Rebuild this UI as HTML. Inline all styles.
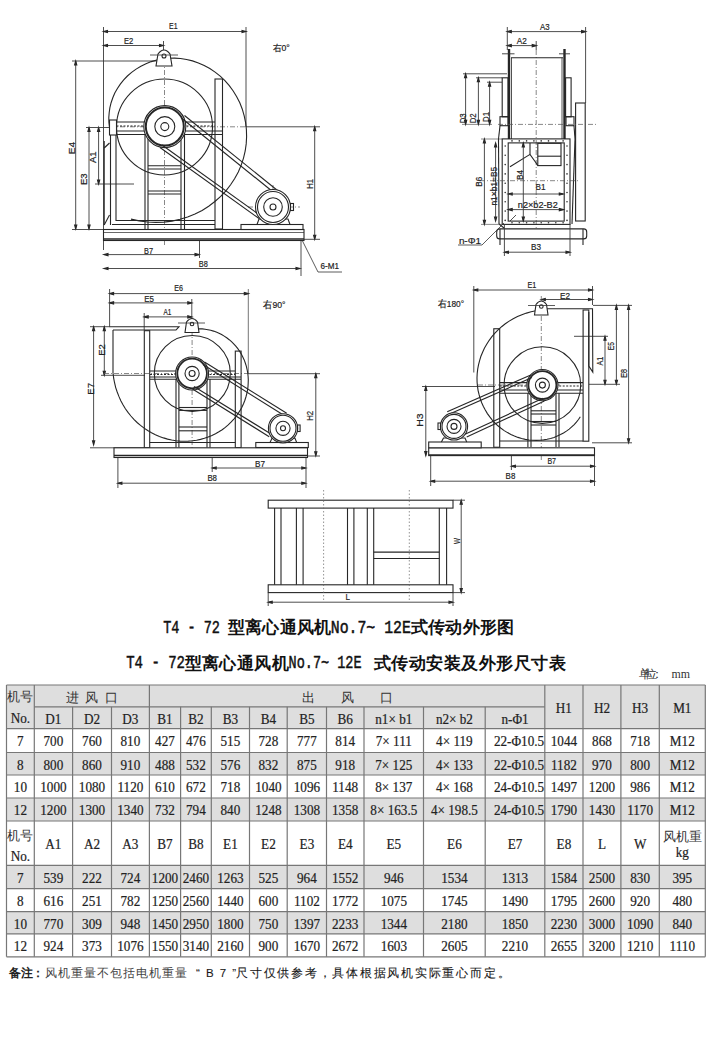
<!DOCTYPE html>
<html><head><meta charset="utf-8">
<style>
html,body{margin:0;padding:0;background:#fff;}
#pg{position:relative;width:720px;height:1045px;overflow:hidden;background:#fff;}
svg{position:absolute;left:0;top:0;}
.t{font-family:"Liberation Serif",serif;fill:#222;stroke:#222;stroke-width:0.2px;text-anchor:middle;}
.c{font-family:"Liberation Serif",serif;fill:#333;text-anchor:middle;}
.d{font-family:"Liberation Sans",sans-serif;fill:#222;stroke:#222;stroke-width:0.2px;}
.lm{font-family:"Liberation Mono",monospace;fill:#111;stroke:#111;stroke-width:0.5px;}
.cj{font-family:"Liberation Serif",serif;font-weight:bold;fill:#111;}
.un{font-family:"Liberation Serif",serif;fill:#333;}
.nb{font-family:"Liberation Sans",sans-serif;font-weight:bold;fill:#222;}
.nm{font-family:"Liberation Sans",sans-serif;fill:#1a1a1a;stroke:#1a1a1a;stroke-width:0.1px;}
.nr{font-family:"Liberation Sans",sans-serif;fill:#444;}
.title{position:absolute;white-space:nowrap;font-family:"Liberation Mono",monospace;color:#111;}
.note{position:absolute;white-space:nowrap;font-family:"Liberation Sans",sans-serif;color:#222;}
</style></head><body><div id="pg">
<svg width="720" height="1045" viewBox="0 0 720 1045">
<g fill="none" stroke="#262626" stroke-width="1.1">
<line x1="103.5" y1="27" x2="103.5" y2="250" stroke="#3a3a3a" stroke-width="0.9"/>
<line x1="246" y1="27" x2="246" y2="127" stroke="#3a3a3a" stroke-width="0.9"/>
<line x1="103.5" y1="31.5" x2="246" y2="31.5" stroke="#3a3a3a" stroke-width="0.9"/>
<path d="M103.5,31.5 L107.50,30.40 L107.50,32.60Z" fill="#333"/>
<path d="M246,31.5 L242.00,32.60 L242.00,30.40Z" fill="#333"/>
<line x1="103.5" y1="45.5" x2="163.5" y2="45.5" stroke="#3a3a3a" stroke-width="0.9"/>
<path d="M103.5,45.5 L107.50,44.40 L107.50,46.60Z" fill="#333"/>
<path d="M163.5,45.5 L159.50,46.60 L159.50,44.40Z" fill="#333"/>
<line x1="163.5" y1="41" x2="163.5" y2="51" stroke="#3a3a3a" stroke-width="0.9"/>
<line x1="72" y1="61" x2="158" y2="61" stroke="#3a3a3a" stroke-width="0.9"/>
<line x1="75.7" y1="61" x2="75.7" y2="229" stroke="#3a3a3a" stroke-width="0.9"/>
<path d="M75.7,61 L76.80,65.00 L74.60,65.00Z" fill="#333"/>
<path d="M75.7,229 L74.60,225.00 L76.80,225.00Z" fill="#333"/>
<line x1="89" y1="127.5" x2="89" y2="229" stroke="#3a3a3a" stroke-width="0.9"/>
<path d="M89,127.5 L90.10,131.50 L87.90,131.50Z" fill="#333"/>
<path d="M89,229 L87.90,225.00 L90.10,225.00Z" fill="#333"/>
<line x1="98.6" y1="127.5" x2="98.6" y2="184" stroke="#3a3a3a" stroke-width="0.9"/>
<path d="M98.6,127.5 L99.70,131.50 L97.50,131.50Z" fill="#333"/>
<path d="M98.6,184 L97.50,180.00 L99.70,180.00Z" fill="#333"/>
<line x1="86" y1="127.5" x2="109" y2="127.5" stroke="#3a3a3a" stroke-width="0.9"/>
<line x1="95" y1="184" x2="134" y2="184" stroke="#3a3a3a" stroke-width="0.9"/>
<line x1="72" y1="229.5" x2="103" y2="229.5" stroke="#3a3a3a" stroke-width="0.9"/>
<line x1="246" y1="126.8" x2="320" y2="126.8" stroke="#3a3a3a" stroke-width="0.9"/>
<line x1="314.7" y1="126.8" x2="314.7" y2="239.3" stroke="#3a3a3a" stroke-width="0.9"/>
<path d="M314.7,126.8 L315.80,130.80 L313.60,130.80Z" fill="#333"/>
<path d="M314.7,239.3 L313.60,235.30 L315.80,235.30Z" fill="#333"/>
<line x1="304" y1="239.3" x2="320" y2="239.3" stroke="#3a3a3a" stroke-width="0.9"/>
<line x1="104" y1="254.6" x2="199" y2="254.6" stroke="#3a3a3a" stroke-width="0.9"/>
<path d="M104,254.6 L108.00,253.50 L108.00,255.70Z" fill="#333"/>
<path d="M199,254.6 L195.00,255.70 L195.00,253.50Z" fill="#333"/>
<line x1="199.5" y1="241" x2="199.5" y2="258" stroke="#3a3a3a" stroke-width="0.9"/>
<line x1="104" y1="268.5" x2="300" y2="268.5" stroke="#3a3a3a" stroke-width="0.9"/>
<path d="M104,268.5 L108.00,267.40 L108.00,269.60Z" fill="#333"/>
<path d="M300,268.5 L296.00,269.60 L296.00,267.40Z" fill="#333"/>
<line x1="301" y1="241" x2="301" y2="276" stroke="#3a3a3a" stroke-width="0.9"/>
<polyline points="302,240 318,272 342,272" stroke="#333" stroke-width="0.8"/>
<line x1="164.5" y1="50" x2="164.5" y2="245" stroke="#555" stroke-width="0.7" stroke-dasharray="5,2,1,2"/>
<line x1="110" y1="126.8" x2="246" y2="126.8" stroke="#555" stroke-width="0.7" stroke-dasharray="5,2,1,2"/>
<line x1="273" y1="185" x2="273" y2="228" stroke="#555" stroke-width="0.7" stroke-dasharray="5,2,1,2"/>
<line x1="248" y1="207" x2="300" y2="207" stroke="#555" stroke-width="0.7" stroke-dasharray="5,2,1,2"/>
<polyline points="110.4,131.7 109.5,127.1 108.9,122.3 108.8,117.4 109.2,112.5 109.9,107.6 111.1,102.7 112.8,97.8 114.8,93.1 117.4,88.5 120.3,84.1 123.7,79.9 127.4,76.0 131.6,72.4 136.1,69.1 140.9,66.2 146.0,63.7 151.3,61.6 156.9,60.0 162.6,58.9 168.5,58.2 174.5,58.1 180.5,58.5 186.6,59.5 192.5,60.9 198.4,62.9 204.2,65.5 209.8,68.5 215.1,72.1 220.2,76.1 224.9,80.6 229.3,85.6 233.2,91.0 236.7,96.7 239.8,102.8 242.3,109.2 244.2,115.8 245.6,122.6 246.4,129.6 246.6,136.7 246.2,143.9 245.2,151.0 243.5,158.1 241.2,165.1 238.3,171.9 234.7,178.5 230.6,184.8 225.9,190.8 220.7,196.4 214.9,201.5 208.7,206.2 202.1,210.4 195.0,214.0 187.6,217.0 180.0,219.3 172.0,221.1 163.9,222.1 155.7,222.4 147.5,222.0 139.2,220.9 131.0,219.1"/>
<circle cx="164.5" cy="127" r="48"/>
<path d="M156,66 L158,54 Q164,46 170,54 L172,66 Z" fill="#fff"/>
<circle cx="164" cy="56" r="2"/>
<line x1="150" y1="55" x2="178" y2="55" stroke="#333" stroke-width="0.8"/>
<rect x="109.5" y="120" width="7" height="15" fill="#fff"/>
<line x1="116.5" y1="122" x2="215" y2="122"/>
<line x1="116.5" y1="126" x2="215" y2="126" stroke-dasharray="2,1.5"/>
<line x1="116.5" y1="131" x2="223" y2="131"/>
<line x1="116.5" y1="134.5" x2="223" y2="134.5"/>
<line x1="110.5" y1="135" x2="110.5" y2="225"/>
<line x1="116" y1="135" x2="116" y2="221"/>
<line x1="104.2" y1="141" x2="104.2" y2="225"/>
<line x1="104.2" y1="148" x2="109.5" y2="143"/>
<line x1="104.2" y1="225" x2="109.5" y2="215"/>
<rect x="215" y="79" width="7.5" height="150"/>
<line x1="145" y1="135" x2="145" y2="229"/>
<line x1="148" y1="135" x2="148" y2="229"/>
<line x1="181" y1="135" x2="181" y2="229"/>
<line x1="184.5" y1="135" x2="184.5" y2="229"/>
<line x1="148" y1="165.8" x2="181" y2="165.8"/>
<line x1="148" y1="169" x2="181" y2="169"/>
<line x1="148" y1="191" x2="181" y2="191"/>
<line x1="148" y1="194" x2="181" y2="194"/>
<line x1="116" y1="220.5" x2="215" y2="220.5"/>
<line x1="112" y1="224.5" x2="215" y2="224.5"/>
<rect x="103.5" y="229.5" width="200.5" height="11" fill="#fff"/>
<line x1="103.5" y1="232.5" x2="304" y2="232.5" stroke-width="0.7"/>
<line x1="103.5" y1="239" x2="304" y2="239" stroke-width="1.6"/>
<rect x="241" y="224.5" width="62" height="5" fill="#fff"/>
<path d="M257,224.5 L259,219 L288,219 L290,224.5"/>
<circle cx="164.8" cy="126.6" r="21" fill="#fff"/>
<circle cx="164.8" cy="126.6" r="19" stroke-width="2"/>
<circle cx="164.8" cy="126.6" r="10"/>
<circle cx="164.8" cy="126.6" r="4"/>
<line x1="184.5" y1="115.5" x2="277.5" y2="190.5"/>
<line x1="182" y1="118.5" x2="275" y2="193.5"/>
<line x1="160" y1="147.5" x2="259" y2="218.5"/>
<line x1="162" y1="145" x2="261" y2="216"/>
<circle cx="273" cy="207" r="17.5" fill="#fff"/>
<circle cx="273" cy="207" r="15.5"/>
<circle cx="273" cy="207" r="9.3"/>
<circle cx="273" cy="207" r="3"/>
<rect x="290.5" y="203.5" width="3" height="7"/>
</g>
<text x="169" y="29" textLength="8.5" lengthAdjust="spacingAndGlyphs" class="d" font-size="9.5">E1</text>
<text x="124" y="44" textLength="9.3" lengthAdjust="spacingAndGlyphs" class="d" font-size="9.5">E2</text>
<text x="144" y="253.5" textLength="9.0" lengthAdjust="spacingAndGlyphs" class="d" font-size="9.5">B7</text>
<text x="198.8" y="267" textLength="9.0" lengthAdjust="spacingAndGlyphs" class="d" font-size="9.5">B8</text>
<text x="320.5" y="269.4" textLength="18.5" lengthAdjust="spacingAndGlyphs" class="d" font-size="9.5">6-M1</text>
<text x="272.7" y="50.8" class="d" font-size="9" textLength="17" lengthAdjust="spacingAndGlyphs">右0°</text>
<text transform="translate(75.1,154.3) rotate(-90)" x="0" y="0" textLength="12.4" lengthAdjust="spacingAndGlyphs" class="d" font-size="9.5">E4</text>
<text transform="translate(86.6,185) rotate(-90)" x="0" y="0" textLength="11.6" lengthAdjust="spacingAndGlyphs" class="d" font-size="9.5">E3</text>
<text transform="translate(96.1,163) rotate(-90)" x="0" y="0" textLength="11.6" lengthAdjust="spacingAndGlyphs" class="d" font-size="9.5">A1</text>
<text transform="translate(312.8,188.7) rotate(-90)" x="0" y="0" textLength="9.7" lengthAdjust="spacingAndGlyphs" class="d" font-size="9.5">H1</text>
<g fill="none" stroke="#262626" stroke-width="1.1">
<line x1="507.3" y1="31.6" x2="585.6" y2="31.6" stroke="#3a3a3a" stroke-width="0.9"/>
<path d="M507.3,31.6 L511.30,30.50 L511.30,32.70Z" fill="#333"/>
<path d="M585.6,31.6 L581.60,32.70 L581.60,30.50Z" fill="#333"/>
<line x1="507.3" y1="45.6" x2="536.2" y2="45.6" stroke="#3a3a3a" stroke-width="0.9"/>
<path d="M507.3,45.6 L511.30,44.50 L511.30,46.70Z" fill="#333"/>
<path d="M536.2,45.6 L532.20,46.70 L532.20,44.50Z" fill="#333"/>
<line x1="507.3" y1="27" x2="507.3" y2="50" stroke="#3a3a3a" stroke-width="0.9"/>
<line x1="585.6" y1="27" x2="585.6" y2="103" stroke="#3a3a3a" stroke-width="0.9"/>
<line x1="536.2" y1="41" x2="536.2" y2="50" stroke="#3a3a3a" stroke-width="0.9"/>
<line x1="536.2" y1="50" x2="536.2" y2="230" stroke="#555" stroke-width="0.7" stroke-dasharray="5,2,1,2"/>
<line x1="463" y1="73.8" x2="507" y2="73.8" stroke="#3a3a3a" stroke-width="0.9"/>
<line x1="465.6" y1="73.8" x2="465.6" y2="124.4" stroke="#3a3a3a" stroke-width="0.9"/>
<path d="M465.6,73.8 L466.70,77.80 L464.50,77.80Z" fill="#333"/>
<path d="M465.6,124.4 L464.50,120.40 L466.70,120.40Z" fill="#333"/>
<line x1="476" y1="77.8" x2="502" y2="77.8" stroke="#3a3a3a" stroke-width="0.9"/>
<line x1="478.4" y1="77.8" x2="478.4" y2="124.4" stroke="#3a3a3a" stroke-width="0.9"/>
<path d="M478.4,77.8 L479.50,81.80 L477.30,81.80Z" fill="#333"/>
<path d="M478.4,124.4 L477.30,120.40 L479.50,120.40Z" fill="#333"/>
<line x1="487" y1="82.2" x2="502" y2="82.2" stroke="#3a3a3a" stroke-width="0.9"/>
<line x1="489.6" y1="82.2" x2="489.6" y2="124.4" stroke="#3a3a3a" stroke-width="0.9"/>
<path d="M489.6,82.2 L490.70,86.20 L488.50,86.20Z" fill="#333"/>
<path d="M489.6,124.4 L488.50,120.40 L490.70,120.40Z" fill="#333"/>
<line x1="462" y1="124.4" x2="492" y2="124.4" stroke="#3a3a3a" stroke-width="0.6"/>
<line x1="509" y1="49" x2="509" y2="139" stroke-width="2.4"/>
<line x1="564.5" y1="49" x2="564.5" y2="139" stroke-width="2.4"/>
<line x1="502" y1="53.8" x2="514.5" y2="53.8" stroke="#333" stroke-width="0.9"/>
<line x1="559" y1="53.8" x2="570" y2="53.8" stroke="#333" stroke-width="0.9"/>
<line x1="511" y1="57.8" x2="563" y2="57.8"/>
<line x1="511.5" y1="57.8" x2="511.5" y2="139" stroke-width="0.8"/>
<line x1="562" y1="57.8" x2="562" y2="139" stroke-width="0.8"/>
<rect x="502.2" y="77.8" width="5.8" height="39"/>
<rect x="500" y="116.7" width="8" height="9"/>
<line x1="500" y1="125.7" x2="498.5" y2="139"/>
<rect x="565.6" y="77.8" width="5.5" height="39"/>
<rect x="566" y="116.7" width="8" height="9"/>
<line x1="574" y1="125.7" x2="575" y2="139"/>
<rect x="575.6" y="103" width="9.6" height="118"/>
<line x1="498" y1="124.4" x2="596" y2="124.4" stroke="#555" stroke-width="0.7" stroke-dasharray="5,2,1,2"/>
<rect x="502.2" y="138.9" width="67.8" height="85.5"/>
<rect x="508.2" y="142.9" width="56" height="78.2"/>
<g fill="#333" stroke="none">
<circle cx="505.2" cy="146.0" r="0.8"/><circle cx="567" cy="146.0" r="0.8"/>
<circle cx="505.2" cy="155.3" r="0.8"/><circle cx="567" cy="155.3" r="0.8"/>
<circle cx="505.2" cy="164.6" r="0.8"/><circle cx="567" cy="164.6" r="0.8"/>
<circle cx="505.2" cy="173.9" r="0.8"/><circle cx="567" cy="173.9" r="0.8"/>
<circle cx="505.2" cy="183.2" r="0.8"/><circle cx="567" cy="183.2" r="0.8"/>
<circle cx="505.2" cy="192.5" r="0.8"/><circle cx="567" cy="192.5" r="0.8"/>
<circle cx="505.2" cy="201.8" r="0.8"/><circle cx="567" cy="201.8" r="0.8"/>
<circle cx="505.2" cy="211.1" r="0.8"/><circle cx="567" cy="211.1" r="0.8"/>
<circle cx="505.2" cy="220.4" r="0.8"/><circle cx="567" cy="220.4" r="0.8"/>
<circle cx="512.0" cy="140.9" r="0.8"/><circle cx="512.0" cy="222.7" r="0.8"/>
<circle cx="519.3" cy="140.9" r="0.8"/><circle cx="519.3" cy="222.7" r="0.8"/>
<circle cx="526.6" cy="140.9" r="0.8"/><circle cx="526.6" cy="222.7" r="0.8"/>
<circle cx="533.9" cy="140.9" r="0.8"/><circle cx="533.9" cy="222.7" r="0.8"/>
<circle cx="541.2" cy="140.9" r="0.8"/><circle cx="541.2" cy="222.7" r="0.8"/>
<circle cx="548.5" cy="140.9" r="0.8"/><circle cx="548.5" cy="222.7" r="0.8"/>
<circle cx="555.8" cy="140.9" r="0.8"/><circle cx="555.8" cy="222.7" r="0.8"/>
<circle cx="563.1" cy="140.9" r="0.8"/><circle cx="563.1" cy="222.7" r="0.8"/>
</g>
<line x1="498.5" y1="139" x2="499" y2="224"/>
<line x1="575" y1="139" x2="572" y2="224"/>
<line x1="499" y1="224" x2="504" y2="228"/>
<rect x="537.8" y="143.3" width="23.2" height="22.3"/>
<line x1="537.8" y1="156.2" x2="561" y2="156.2"/>
<polyline points="510,166.7 530,154.4 535.6,162.2 537.8,165.6"/>
<line x1="530" y1="143" x2="530" y2="154.4"/>
<line x1="510" y1="221" x2="516" y2="215" stroke-width="0.8"/>
<line x1="484.4" y1="139" x2="484.4" y2="224.4" stroke="#3a3a3a" stroke-width="0.9"/>
<path d="M484.4,139 L485.50,143.00 L483.30,143.00Z" fill="#333"/>
<path d="M484.4,224.4 L483.30,220.40 L485.50,220.40Z" fill="#333"/>
<line x1="481" y1="139" x2="502" y2="139" stroke="#3a3a3a" stroke-width="0.6"/>
<line x1="481" y1="224.4" x2="502" y2="224.4" stroke="#3a3a3a" stroke-width="0.6"/>
<line x1="495.6" y1="143" x2="495.6" y2="221" stroke="#3a3a3a" stroke-width="0.9"/>
<path d="M495.6,143 L496.70,147.00 L494.50,147.00Z" fill="#333"/>
<path d="M495.6,221 L494.50,217.00 L496.70,217.00Z" fill="#333"/>
<line x1="523.3" y1="143" x2="523.3" y2="221" stroke="#3a3a3a" stroke-width="0.9"/>
<path d="M523.3,143 L524.40,147.00 L522.20,147.00Z" fill="#333"/>
<path d="M523.3,221 L522.20,217.00 L524.40,217.00Z" fill="#333"/>
<line x1="480" y1="180.7" x2="580" y2="180.7" stroke="#555" stroke-width="0.7" stroke-dasharray="5,2,1,2"/>
<line x1="508.2" y1="194" x2="563.3" y2="194" stroke="#3a3a3a" stroke-width="0.9"/>
<path d="M508.2,194 L512.20,192.90 L512.20,195.10Z" fill="#333"/>
<path d="M563.3,194 L559.30,195.10 L559.30,192.90Z" fill="#333"/>
<line x1="508.2" y1="209.6" x2="563.3" y2="209.6" stroke="#3a3a3a" stroke-width="0.9"/>
<path d="M508.2,209.6 L512.20,208.50 L512.20,210.70Z" fill="#333"/>
<path d="M563.3,209.6 L559.30,210.70 L559.30,208.50Z" fill="#333"/>
<rect x="496.7" y="228.9" width="90" height="10" rx="3" fill="#fff"/>
<line x1="500" y1="229" x2="500" y2="245"/>
<line x1="583" y1="229" x2="583" y2="245"/>
<line x1="504.4" y1="252.2" x2="570" y2="252.2" stroke="#3a3a3a" stroke-width="0.9"/>
<path d="M504.4,252.2 L508.40,251.10 L508.40,253.30Z" fill="#333"/>
<path d="M570,252.2 L566.00,253.30 L566.00,251.10Z" fill="#333"/>
<line x1="504.4" y1="224" x2="504.4" y2="256" stroke="#3a3a3a" stroke-width="0.9"/>
<line x1="570" y1="224" x2="570" y2="256" stroke="#3a3a3a" stroke-width="0.9"/>
<polyline points="504,223 482,245 458,245" stroke="#333" stroke-width="0.8"/>
</g>
<text x="540" y="30" textLength="9.6" lengthAdjust="spacingAndGlyphs" class="d" font-size="9.5">A3</text>
<text x="516.7" y="43.8" textLength="10.0" lengthAdjust="spacingAndGlyphs" class="d" font-size="9.5">A2</text>
<text transform="translate(466,123.3) rotate(-90)" x="0" y="0" textLength="10.0" lengthAdjust="spacingAndGlyphs" class="d" font-size="9.5">D3</text>
<text transform="translate(476,123.3) rotate(-90)" x="0" y="0" textLength="10.0" lengthAdjust="spacingAndGlyphs" class="d" font-size="9.5">D2</text>
<text transform="translate(489,122) rotate(-90)" x="0" y="0" textLength="10.0" lengthAdjust="spacingAndGlyphs" class="d" font-size="9.5">D1</text>
<text transform="translate(482.2,186.7) rotate(-90)" x="0" y="0" textLength="10.0" lengthAdjust="spacingAndGlyphs" class="d" font-size="9.5">B6</text>
<text transform="translate(497,205.6) rotate(-90)" x="0" y="0" textLength="38.9" lengthAdjust="spacingAndGlyphs" class="d" font-size="9.5">n1×b1=B5</text>
<text transform="translate(523.3,180) rotate(-90)" x="0" y="0" textLength="10.0" lengthAdjust="spacingAndGlyphs" class="d" font-size="9.5">B4</text>
<text x="535.6" y="190.4" textLength="10.0" lengthAdjust="spacingAndGlyphs" class="d" font-size="9.5">B1</text>
<text x="517.8" y="207.8" textLength="40.0" lengthAdjust="spacingAndGlyphs" class="d" font-size="9.5">n2×b2-B2</text>
<text x="531" y="250.4" textLength="10.0" lengthAdjust="spacingAndGlyphs" class="d" font-size="9.5">B3</text>
<text x="458.9" y="244.4" textLength="22.1" lengthAdjust="spacingAndGlyphs" class="d" font-size="9.5">n-Φ1</text>
<g fill="none" stroke="#262626" stroke-width="1.1">
<line x1="109.6" y1="293.6" x2="248.3" y2="293.6" stroke="#3a3a3a" stroke-width="0.9"/>
<path d="M109.6,293.6 L113.60,292.50 L113.60,294.70Z" fill="#333"/>
<path d="M248.3,293.6 L244.30,294.70 L244.30,292.50Z" fill="#333"/>
<line x1="109.6" y1="302.9" x2="191.8" y2="302.9" stroke="#3a3a3a" stroke-width="0.9"/>
<path d="M109.6,302.9 L113.60,301.80 L113.60,304.00Z" fill="#333"/>
<path d="M191.8,302.9 L187.80,304.00 L187.80,301.80Z" fill="#333"/>
<line x1="144.2" y1="316.9" x2="191.8" y2="316.9" stroke="#3a3a3a" stroke-width="0.9"/>
<path d="M144.2,316.9 L148.20,315.80 L148.20,318.00Z" fill="#333"/>
<path d="M191.8,316.9 L187.80,318.00 L187.80,315.80Z" fill="#333"/>
<line x1="109.6" y1="289" x2="109.6" y2="326.7" stroke="#3a3a3a" stroke-width="0.9"/>
<line x1="191.8" y1="299" x2="191.8" y2="320" stroke="#3a3a3a" stroke-width="0.9"/>
<line x1="144.2" y1="313" x2="144.2" y2="330" stroke="#3a3a3a" stroke-width="0.9"/>
<line x1="248.3" y1="289" x2="248.3" y2="373.7" stroke="#3a3a3a" stroke-width="0.7"/>
<line x1="90" y1="326.7" x2="110" y2="326.7" stroke="#3a3a3a" stroke-width="0.9"/>
<line x1="104.3" y1="326.7" x2="104.3" y2="375.3" stroke="#3a3a3a" stroke-width="0.9"/>
<path d="M104.3,326.7 L105.40,330.70 L103.20,330.70Z" fill="#333"/>
<path d="M104.3,375.3 L103.20,371.30 L105.40,371.30Z" fill="#333"/>
<line x1="93.6" y1="326.7" x2="93.6" y2="444.9" stroke="#3a3a3a" stroke-width="0.9"/>
<path d="M93.6,326.7 L94.70,330.70 L92.50,330.70Z" fill="#333"/>
<path d="M93.6,444.9 L92.50,440.90 L94.70,440.90Z" fill="#333"/>
<line x1="101" y1="375.3" x2="145" y2="375.3" stroke="#3a3a3a" stroke-width="0.9"/>
<line x1="90" y1="447.8" x2="145" y2="447.8" stroke="#3a3a3a" stroke-width="0.9"/>
<line x1="192.1" y1="320" x2="192.1" y2="460" stroke="#555" stroke-width="0.7" stroke-dasharray="5,2,1,2"/>
<line x1="104" y1="373.5" x2="248" y2="373.5" stroke="#555" stroke-width="0.7" stroke-dasharray="5,2,1,2"/>
<line x1="248" y1="373.7" x2="320" y2="373.7" stroke="#3a3a3a" stroke-width="0.9"/>
<line x1="315.8" y1="373.7" x2="315.8" y2="455.8" stroke="#3a3a3a" stroke-width="0.9"/>
<path d="M315.8,373.7 L316.90,377.70 L314.70,377.70Z" fill="#333"/>
<path d="M315.8,455.8 L314.70,451.80 L316.90,451.80Z" fill="#333"/>
<line x1="308" y1="456" x2="320" y2="456" stroke="#3a3a3a" stroke-width="0.9"/>
<line x1="212.2" y1="468" x2="305.8" y2="468" stroke="#3a3a3a" stroke-width="0.9"/>
<path d="M212.2,468 L216.20,466.90 L216.20,469.10Z" fill="#333"/>
<path d="M305.8,468 L301.80,469.10 L301.80,466.90Z" fill="#333"/>
<line x1="212.2" y1="457" x2="212.2" y2="472" stroke="#3a3a3a" stroke-width="0.9"/>
<line x1="117.9" y1="483.2" x2="305.8" y2="483.2" stroke="#3a3a3a" stroke-width="0.9"/>
<path d="M117.9,483.2 L121.90,482.10 L121.90,484.30Z" fill="#333"/>
<path d="M305.8,483.2 L301.80,484.30 L301.80,482.10Z" fill="#333"/>
<line x1="117.9" y1="457" x2="117.9" y2="488" stroke="#3a3a3a" stroke-width="0.9"/>
<line x1="306" y1="457" x2="306" y2="488" stroke="#3a3a3a" stroke-width="0.9"/>
<path d="M109.6,326.7 L179,326.7 L176,330 L113,330"/>
<path d="M113,330 L113,373.5"/>
<polyline points="186.1,330.9 188.7,330.2 191.3,329.6 194.0,329.2 196.7,328.9 199.5,328.9 202.3,328.9 205.1,329.2 207.9,329.7 210.7,330.3 213.5,331.1 216.2,332.1 219.0,333.2 221.6,334.6 224.2,336.1 226.7,337.8 229.2,339.7 231.5,341.7 233.7,343.9 235.8,346.2 237.8,348.7 239.6,351.3 241.3,354.1 242.8,356.9 244.2,359.9 245.3,363.0 246.3,366.2 247.1,369.5 247.7,372.8 248.1,376.2 248.3,379.7 248.2,383.1 248.0,386.6 247.5,390.1 246.8,393.6 245.9,397.0 244.8,400.5 243.5,403.8 241.9,407.2 240.1,410.4 238.1,413.5 235.9,416.6 233.6,419.5 231.0,422.2 228.2,424.9 225.3,427.4 222.2,429.7 218.9,431.8 215.5,433.7 211.9,435.5 208.2,437.0 204.4,438.3 200.5,439.4 196.6,440.2 192.5,440.8 188.4,441.1 184.3,441.2 180.1,441.1 175.9,440.7 171.7,440.0 167.6,439.1 163.5,437.9 159.4,436.4 155.4,434.7 151.5,432.7 147.7,430.5 144.1,428.1 140.5,425.4 137.1,422.5 133.9,419.3 130.9,416.0 128.0,412.4 125.4,408.7 123.0,404.7 120.8,400.7 118.9,396.4 117.2,392.0 115.7,387.6 114.6,383.0 113.7,378.3 113.1,373.5"/>
<circle cx="192.3" cy="373.5" r="38"/>
<path d="M185,332.5 L186.5,322 Q192,315 197.5,322 L199,332.5 Z" fill="#fff"/>
<circle cx="192" cy="324" r="1.8"/>
<line x1="178" y1="323" x2="205" y2="323" stroke="#333" stroke-width="0.8"/>
<rect x="144.3" y="330.7" width="5.4" height="117"/>
<rect x="235.3" y="351.1" width="5.8" height="96.5"/>
<line x1="150" y1="371" x2="235" y2="371"/>
<line x1="150" y1="374.5" x2="235" y2="374.5" stroke-dasharray="2,1.5"/>
<line x1="150" y1="377" x2="241" y2="377"/>
<line x1="150" y1="379.3" x2="241" y2="379.3"/>
<line x1="176" y1="379" x2="176" y2="447.5"/>
<line x1="178.9" y1="379" x2="178.9" y2="447.5"/>
<line x1="207" y1="379" x2="207" y2="447.5"/>
<line x1="210" y1="379" x2="210" y2="447.5"/>
<line x1="178.9" y1="407.5" x2="207" y2="407.5"/>
<line x1="178.9" y1="410.4" x2="207" y2="410.4"/>
<line x1="178.9" y1="427" x2="207" y2="427"/>
<line x1="178.9" y1="430.8" x2="207" y2="430.8"/>
<line x1="149.7" y1="442.5" x2="235.3" y2="442.5"/>
<rect x="114" y="447.8" width="193.5" height="9.7" fill="#fff"/>
<line x1="114" y1="455.5" x2="307.5" y2="455.5" stroke-width="1.6"/>
<rect x="255.8" y="442.5" width="52.5" height="5" fill="#fff"/>
<path d="M270,442.5 L272,438.3 L295,438.3 L296.7,442.5"/>
<circle cx="192.1" cy="373.5" r="16.5" fill="#fff"/>
<circle cx="192.1" cy="373.5" r="14.8" stroke-width="1.8"/>
<circle cx="192.1" cy="373.5" r="7.1"/>
<circle cx="192.1" cy="373.5" r="3"/>
<line x1="204.5" y1="362" x2="286.7" y2="413.3"/>
<line x1="203" y1="364.5" x2="285" y2="416"/>
<line x1="192.5" y1="389" x2="269.2" y2="436.7"/>
<line x1="194" y1="386.5" x2="271" y2="434"/>
<circle cx="283" cy="428.3" r="14.6" fill="#fff"/>
<circle cx="283" cy="428.3" r="13"/>
<circle cx="283" cy="428.3" r="7.1"/>
<circle cx="283" cy="428.3" r="2.5"/>
<rect x="297.6" y="425" width="2.5" height="6.5"/>
</g>
<text x="174.3" y="291.3" textLength="8.7" lengthAdjust="spacingAndGlyphs" class="d" font-size="9.5">E6</text>
<text x="144.2" y="301.8" textLength="9.7" lengthAdjust="spacingAndGlyphs" class="d" font-size="9.5">E5</text>
<text x="163.6" y="315" textLength="7.8" lengthAdjust="spacingAndGlyphs" class="d" font-size="9.5">A1</text>
<text transform="translate(105.3,355.8) rotate(-90)" x="0" y="0" textLength="11.6" lengthAdjust="spacingAndGlyphs" class="d" font-size="9.5">E2</text>
<text transform="translate(93.6,394.7) rotate(-90)" x="0" y="0" textLength="11.7" lengthAdjust="spacingAndGlyphs" class="d" font-size="9.5">E7</text>
<text transform="translate(313.3,420.8) rotate(-90)" x="0" y="0" textLength="10.0" lengthAdjust="spacingAndGlyphs" class="d" font-size="9.5">H2</text>
<text x="255" y="466.7" textLength="10.0" lengthAdjust="spacingAndGlyphs" class="d" font-size="9.5">B7</text>
<text x="207.4" y="480.8" textLength="9.6" lengthAdjust="spacingAndGlyphs" class="d" font-size="9.5">B8</text>
<text x="263.3" y="307.8" class="d" font-size="9.5" textLength="22.3" lengthAdjust="spacingAndGlyphs">右90°</text>
<g fill="none" stroke="#262626" stroke-width="1.1">
<line x1="473.8" y1="290" x2="592.5" y2="290" stroke="#3a3a3a" stroke-width="0.9"/>
<path d="M473.8,290 L477.80,288.90 L477.80,291.10Z" fill="#333"/>
<path d="M592.5,290 L588.50,291.10 L588.50,288.90Z" fill="#333"/>
<line x1="541.3" y1="299.5" x2="592.5" y2="299.5" stroke="#3a3a3a" stroke-width="0.9"/>
<path d="M541.3,299.5 L545.30,298.40 L545.30,300.60Z" fill="#333"/>
<path d="M592.5,299.5 L588.50,300.60 L588.50,298.40Z" fill="#333"/>
<line x1="473.8" y1="286" x2="473.8" y2="372.5" stroke="#3a3a3a" stroke-width="0.9"/>
<line x1="592.5" y1="286" x2="592.5" y2="305" stroke="#3a3a3a" stroke-width="0.9"/>
<line x1="541.3" y1="296" x2="541.3" y2="460" stroke="#555" stroke-width="0.7" stroke-dasharray="5,2,1,2"/>
<line x1="593" y1="305.4" x2="632" y2="305.4" stroke="#3a3a3a" stroke-width="0.9"/>
<line x1="616.4" y1="305.4" x2="616.4" y2="384.3" stroke="#3a3a3a" stroke-width="0.9"/>
<path d="M616.4,305.4 L617.50,309.40 L615.30,309.40Z" fill="#333"/>
<path d="M616.4,384.3 L615.30,380.30 L617.50,380.30Z" fill="#333"/>
<line x1="605" y1="336.3" x2="605" y2="384.3" stroke="#3a3a3a" stroke-width="0.9"/>
<path d="M605,336.3 L606.10,340.30 L603.90,340.30Z" fill="#333"/>
<path d="M605,384.3 L603.90,380.30 L606.10,380.30Z" fill="#333"/>
<line x1="628.6" y1="305.4" x2="628.6" y2="442.8" stroke="#3a3a3a" stroke-width="0.9"/>
<path d="M628.6,305.4 L629.70,309.40 L627.50,309.40Z" fill="#333"/>
<path d="M628.6,442.8 L627.50,438.80 L629.70,438.80Z" fill="#333"/>
<line x1="574" y1="336.3" x2="608" y2="336.3" stroke="#3a3a3a" stroke-width="0.9"/>
<line x1="589" y1="384.3" x2="620" y2="384.3" stroke="#3a3a3a" stroke-width="0.9"/>
<line x1="592" y1="442.8" x2="632" y2="442.8" stroke="#3a3a3a" stroke-width="0.9"/>
<line x1="478" y1="385" x2="560" y2="385" stroke="#555" stroke-width="0.7" stroke-dasharray="5,2,1,2"/>
<line x1="422" y1="386.5" x2="495" y2="386.5" stroke="#3a3a3a" stroke-width="0.9"/>
<line x1="425.8" y1="386.5" x2="425.8" y2="455.6" stroke="#3a3a3a" stroke-width="0.9"/>
<path d="M425.8,386.5 L426.90,390.50 L424.70,390.50Z" fill="#333"/>
<path d="M425.8,455.6 L424.70,451.60 L426.90,451.60Z" fill="#333"/>
<line x1="511.4" y1="466.2" x2="594.5" y2="466.2" stroke="#3a3a3a" stroke-width="0.9"/>
<path d="M511.4,466.2 L515.40,465.10 L515.40,467.30Z" fill="#333"/>
<path d="M594.5,466.2 L590.50,467.30 L590.50,465.10Z" fill="#333"/>
<line x1="511.4" y1="456" x2="511.4" y2="470" stroke="#3a3a3a" stroke-width="0.9"/>
<line x1="430.7" y1="481.2" x2="594.5" y2="481.2" stroke="#3a3a3a" stroke-width="0.9"/>
<path d="M430.7,481.2 L434.70,480.10 L434.70,482.30Z" fill="#333"/>
<path d="M594.5,481.2 L590.50,482.30 L590.50,480.10Z" fill="#333"/>
<line x1="430.7" y1="456" x2="430.7" y2="486" stroke="#3a3a3a" stroke-width="0.9"/>
<line x1="594.5" y1="456" x2="594.5" y2="486" stroke="#3a3a3a" stroke-width="0.9"/>
<path d="M541,308.75 L592.5,308.75 L592.8,372.1 L588.8,366 L588.8,312"/>
<polyline points="535.9,310.8 531.1,311.8 526.5,313.1 521.9,314.7 517.5,316.6 513.2,318.7 509.2,321.1 505.3,323.8 501.6,326.7 498.1,329.8 494.9,333.1 491.9,336.7 489.2,340.3 486.7,344.2 484.5,348.1 482.6,352.2 480.9,356.3 479.6,360.6 478.5,364.9 477.7,369.2 477.2,373.5 477.0,377.8 477.1,382.2 477.5,386.4 478.1,390.6 479.1,394.7 480.2,398.8 481.7,402.7 483.4,406.5 485.3,410.1 487.4,413.6 489.8,416.9 492.3,420.1 495.0,423.0 497.9,425.8 501.0,428.3 504.2,430.6 507.5,432.6 510.9,434.5 514.4,436.1 518.0,437.4 521.6,438.5 525.3,439.4 529.0,440.0 532.6,440.3 536.3,440.4 540.0,440.3 543.6,439.9 547.1,439.3 550.6,438.5 554.0,437.4 557.3,436.1 560.5,434.6 563.5,433.0 566.4,431.1 569.2,429.1 571.7,426.9 574.2,424.6 576.4,422.1 578.5,419.5 580.3,416.8"/>
<circle cx="542.4" cy="385.1" r="38.3"/>
<path d="M534.5,315 L536,304.5 Q541.3,297.5 546.5,304.5 L548,315 Z" fill="#fff"/>
<circle cx="541.3" cy="306.5" r="1.8"/>
<line x1="528" y1="305.5" x2="555" y2="305.5" stroke="#333" stroke-width="0.8"/>
<rect x="493.8" y="328.75" width="5.9" height="118.5"/>
<rect x="583.1" y="310" width="5.7" height="131.2"/>
<line x1="499.7" y1="382.6" x2="583" y2="382.6"/>
<line x1="499.7" y1="386" x2="583" y2="386" stroke-dasharray="2,1.5"/>
<line x1="499.7" y1="390" x2="583" y2="390"/>
<line x1="499.7" y1="393.3" x2="583" y2="393.3"/>
<line x1="527.9" y1="393.3" x2="527.9" y2="447"/>
<line x1="531" y1="393.3" x2="531" y2="447"/>
<line x1="556" y1="393.3" x2="556" y2="447"/>
<line x1="559" y1="393.3" x2="559" y2="447"/>
<line x1="531" y1="410.8" x2="556" y2="410.8"/>
<line x1="531" y1="414" x2="556" y2="414"/>
<line x1="531" y1="421.5" x2="556" y2="421.5"/>
<line x1="531" y1="425" x2="556" y2="425"/>
<line x1="499.7" y1="441" x2="583" y2="441"/>
<rect x="428.7" y="447.8" width="165.8" height="7.8" fill="#fff"/>
<line x1="428.7" y1="455" x2="594.5" y2="455" stroke-width="1.6"/>
<rect x="428.7" y="442" width="52.5" height="5.8" fill="#fff"/>
<path d="M441.4,442 L443.5,438 L465,438 L466.7,442"/>
<circle cx="542.4" cy="385.1" r="15.6" fill="#fff"/>
<circle cx="542.4" cy="385.1" r="14" stroke-width="1.8"/>
<circle cx="542.4" cy="385.1" r="7"/>
<circle cx="542.4" cy="385.1" r="3"/>
<line x1="447.2" y1="411.8" x2="530.8" y2="374.9"/>
<line x1="448.5" y1="414.5" x2="532" y2="377.6"/>
<line x1="466.7" y1="437" x2="544.4" y2="401"/>
<line x1="465" y1="434.3" x2="543" y2="398.3"/>
<circle cx="454" cy="426.4" r="13.6" fill="#fff"/>
<circle cx="454" cy="426.4" r="12"/>
<circle cx="454" cy="426.4" r="7"/>
<circle cx="454" cy="426.4" r="3"/>
<rect x="438" y="423" width="2.5" height="6.5"/>
</g>
<text x="527.5" y="288" textLength="8.8" lengthAdjust="spacingAndGlyphs" class="d" font-size="9.5">E1</text>
<text x="560" y="298.8" textLength="10.0" lengthAdjust="spacingAndGlyphs" class="d" font-size="9.5">E2</text>
<text x="438" y="307.4" class="d" font-size="9.5" textLength="26" lengthAdjust="spacingAndGlyphs">右180°</text>
<text transform="translate(614,350.2) rotate(-90)" x="0" y="0" textLength="8.2" lengthAdjust="spacingAndGlyphs" class="d" font-size="9.5">E5</text>
<text transform="translate(602.6,365.6) rotate(-90)" x="0" y="0" textLength="8.9" lengthAdjust="spacingAndGlyphs" class="d" font-size="9.5">A1</text>
<text transform="translate(627,377.8) rotate(-90)" x="0" y="0" textLength="8.9" lengthAdjust="spacingAndGlyphs" class="d" font-size="9.5">E8</text>
<text transform="translate(423.3,426.7) rotate(-90)" x="0" y="0" textLength="13.4" lengthAdjust="spacingAndGlyphs" class="d" font-size="9.5">H3</text>
<text x="547.4" y="464.3" textLength="8.6" lengthAdjust="spacingAndGlyphs" class="d" font-size="9.5">B7</text>
<text x="505.6" y="478.9" textLength="9.7" lengthAdjust="spacingAndGlyphs" class="d" font-size="9.5">B8</text>
<g fill="none" stroke="#262626" stroke-width="1.1">
<rect x="268.2" y="500.2" width="184.8" height="7.9"/>
<rect x="268.2" y="584.8" width="184.8" height="7.8"/>
<line x1="274.6" y1="508.1" x2="274.6" y2="584.8"/><line x1="281" y1="508.1" x2="281" y2="584.8"/>
<line x1="296.4" y1="508.1" x2="296.4" y2="584.8"/><line x1="303.1" y1="508.1" x2="303.1" y2="584.8"/>
<line x1="347.5" y1="508.1" x2="347.5" y2="584.8"/><line x1="353.9" y1="508.1" x2="353.9" y2="584.8"/>
<line x1="367.3" y1="508.1" x2="367.3" y2="584.8"/><line x1="373.7" y1="508.1" x2="373.7" y2="584.8"/>
<line x1="439.3" y1="508.1" x2="439.3" y2="584.8"/><line x1="446.6" y1="508.1" x2="446.6" y2="584.8"/>
<line x1="373.7" y1="552.1" x2="439.3" y2="552.1"/><line x1="373.7" y1="558.5" x2="439.3" y2="558.5"/>
<line x1="323.6" y1="490" x2="323.6" y2="600" stroke="#666" stroke-width="0.7" stroke-dasharray="1.5,2"/>
<line x1="409.3" y1="490" x2="409.3" y2="600" stroke="#666" stroke-width="0.7" stroke-dasharray="1.5,2"/>
<line x1="461.2" y1="500.2" x2="461.2" y2="592.6" stroke="#3a3a3a" stroke-width="0.9"/>
<path d="M461.2,500.2 L462.30,504.20 L460.10,504.20Z" fill="#333"/>
<path d="M461.2,592.6 L460.10,588.60 L462.30,588.60Z" fill="#333"/>
<line x1="453" y1="500.2" x2="465" y2="500.2" stroke="#3a3a3a" stroke-width="0.9"/>
<line x1="453" y1="592.6" x2="465" y2="592.6" stroke="#3a3a3a" stroke-width="0.9"/>
<line x1="268.2" y1="602.2" x2="453" y2="602.2" stroke="#3a3a3a" stroke-width="0.9"/>
<path d="M268.2,602.2 L272.20,601.10 L272.20,603.30Z" fill="#333"/>
<path d="M453,602.2 L449.00,603.30 L449.00,601.10Z" fill="#333"/>
<line x1="268.2" y1="592.6" x2="268.2" y2="606" stroke="#3a3a3a" stroke-width="0.9"/>
<line x1="453" y1="592.6" x2="453" y2="606" stroke="#3a3a3a" stroke-width="0.9"/>
</g>
<text transform="translate(460,544) rotate(-90)" x="0" y="0" textLength="6.0" lengthAdjust="spacingAndGlyphs" class="d" font-size="9.5">W</text>
<text x="345.5" y="600" textLength="4.5" lengthAdjust="spacingAndGlyphs" class="d" font-size="9.5">L</text>
<rect x="6.5" y="685" width="698.80" height="43.70" fill="#dedede"/>
<rect x="6.5" y="752.5" width="698.80" height="22.50" fill="#dedede"/>
<rect x="6.5" y="798" width="698.80" height="23.00" fill="#dedede"/>
<rect x="6.5" y="865.3" width="698.80" height="23.30" fill="#dedede"/>
<rect x="6.5" y="911.6" width="698.80" height="22.20" fill="#dedede"/>
<line x1="6.5" y1="685" x2="705.3" y2="685" stroke="#777" stroke-width="1.2"/>
<line x1="34.3" y1="706.8" x2="544.8" y2="706.8" stroke="#777" stroke-width="1.2"/>
<line x1="6.5" y1="728.7" x2="705.3" y2="728.7" stroke="#777" stroke-width="1.2"/>
<line x1="6.5" y1="752.5" x2="705.3" y2="752.5" stroke="#777" stroke-width="1.2"/>
<line x1="6.5" y1="775" x2="705.3" y2="775" stroke="#777" stroke-width="1.2"/>
<line x1="6.5" y1="798" x2="705.3" y2="798" stroke="#777" stroke-width="1.2"/>
<line x1="6.5" y1="821" x2="705.3" y2="821" stroke="#777" stroke-width="1.2"/>
<line x1="6.5" y1="865.3" x2="705.3" y2="865.3" stroke="#777" stroke-width="1.2"/>
<line x1="6.5" y1="888.6" x2="705.3" y2="888.6" stroke="#777" stroke-width="1.2"/>
<line x1="6.5" y1="911.6" x2="705.3" y2="911.6" stroke="#777" stroke-width="1.2"/>
<line x1="6.5" y1="933.8" x2="705.3" y2="933.8" stroke="#777" stroke-width="1.2"/>
<line x1="6.5" y1="956.8" x2="705.3" y2="956.8" stroke="#777" stroke-width="1.2"/>
<line x1="6.5" y1="685" x2="6.5" y2="956.8" stroke="#777" stroke-width="1.2"/>
<line x1="34.3" y1="685" x2="34.3" y2="956.8" stroke="#777" stroke-width="1.2"/>
<line x1="72.6" y1="706.8" x2="72.6" y2="956.8" stroke="#777" stroke-width="1.2"/>
<line x1="111.5" y1="706.8" x2="111.5" y2="956.8" stroke="#777" stroke-width="1.2"/>
<line x1="149.4" y1="685" x2="149.4" y2="956.8" stroke="#777" stroke-width="1.2"/>
<line x1="180.6" y1="706.8" x2="180.6" y2="956.8" stroke="#777" stroke-width="1.2"/>
<line x1="211.3" y1="706.8" x2="211.3" y2="956.8" stroke="#777" stroke-width="1.2"/>
<line x1="249.5" y1="706.8" x2="249.5" y2="956.8" stroke="#777" stroke-width="1.2"/>
<line x1="287.2" y1="706.8" x2="287.2" y2="956.8" stroke="#777" stroke-width="1.2"/>
<line x1="326.5" y1="706.8" x2="326.5" y2="956.8" stroke="#777" stroke-width="1.2"/>
<line x1="364" y1="706.8" x2="364" y2="956.8" stroke="#777" stroke-width="1.2"/>
<line x1="423.5" y1="706.8" x2="423.5" y2="956.8" stroke="#777" stroke-width="1.2"/>
<line x1="485.2" y1="706.8" x2="485.2" y2="956.8" stroke="#777" stroke-width="1.2"/>
<line x1="544.8" y1="685" x2="544.8" y2="956.8" stroke="#777" stroke-width="1.2"/>
<line x1="583" y1="685" x2="583" y2="956.8" stroke="#777" stroke-width="1.2"/>
<line x1="620.9" y1="685" x2="620.9" y2="956.8" stroke="#777" stroke-width="1.2"/>
<line x1="659.3" y1="685" x2="659.3" y2="956.8" stroke="#777" stroke-width="1.2"/>
<line x1="705.3" y1="685" x2="705.3" y2="956.8" stroke="#777" stroke-width="1.2"/>
<text x="20.4" y="700.5" class="c" font-size="13">机号</text>
<text transform="translate(20.4,722.8) scale(0.97,1)" class="t" font-size="13.6">No.</text>
<text x="91.8" y="701.7" class="c" font-size="13">进&#160;&#160;风&#160;&#160;口</text>
<text x="347.1" y="701.7" class="c" font-size="13">出&#160;&#160;&#160;&#160;&#160;&#160;&#160;&#160;风&#160;&#160;&#160;&#160;&#160;&#160;&#160;&#160;口</text>
<text transform="translate(563.9,712.6) scale(0.97,1)" class="t" font-size="13.6">H1</text>
<text transform="translate(602.0,712.6) scale(0.97,1)" class="t" font-size="13.6">H2</text>
<text transform="translate(640.1,712.6) scale(0.97,1)" class="t" font-size="13.6">H3</text>
<text transform="translate(682.3,712.6) scale(0.97,1)" class="t" font-size="13.6">M1</text>
<text transform="translate(53.4,723.5) scale(0.97,1)" class="t" font-size="13.6">D1</text>
<text transform="translate(92.0,723.5) scale(0.97,1)" class="t" font-size="13.6">D2</text>
<text transform="translate(130.4,723.5) scale(0.97,1)" class="t" font-size="13.6">D3</text>
<text transform="translate(165.0,723.5) scale(0.97,1)" class="t" font-size="13.6">B1</text>
<text transform="translate(195.9,723.5) scale(0.97,1)" class="t" font-size="13.6">B2</text>
<text transform="translate(230.4,723.5) scale(0.97,1)" class="t" font-size="13.6">B3</text>
<text transform="translate(268.4,723.5) scale(0.97,1)" class="t" font-size="13.6">B4</text>
<text transform="translate(306.9,723.5) scale(0.97,1)" class="t" font-size="13.6">B5</text>
<text transform="translate(345.2,723.5) scale(0.97,1)" class="t" font-size="13.6">B6</text>
<text transform="translate(393.8,723.5) scale(0.97,1)" class="t" font-size="13.6">n1&#215; b1</text>
<text transform="translate(454.4,723.5) scale(0.97,1)" class="t" font-size="13.6">n2&#215; b2</text>
<text transform="translate(515.0,723.5) scale(0.97,1)" class="t" font-size="13.6">n-&#934;1</text>
<text transform="translate(20.4,746.4) scale(0.97,1)" class="t" font-size="13.6">7</text>
<text transform="translate(53.4,746.4) scale(0.97,1)" class="t" font-size="13.6">700</text>
<text transform="translate(92.0,746.4) scale(0.97,1)" class="t" font-size="13.6">760</text>
<text transform="translate(130.4,746.4) scale(0.97,1)" class="t" font-size="13.6">810</text>
<text transform="translate(165.0,746.4) scale(0.97,1)" class="t" font-size="13.6">427</text>
<text transform="translate(195.9,746.4) scale(0.97,1)" class="t" font-size="13.6">476</text>
<text transform="translate(230.4,746.4) scale(0.97,1)" class="t" font-size="13.6">515</text>
<text transform="translate(268.4,746.4) scale(0.97,1)" class="t" font-size="13.6">728</text>
<text transform="translate(306.9,746.4) scale(0.97,1)" class="t" font-size="13.6">777</text>
<text transform="translate(345.2,746.4) scale(0.97,1)" class="t" font-size="13.6">814</text>
<text transform="translate(393.8,746.4) scale(0.97,1)" class="t" font-size="13.6">7&#215; 111</text>
<text transform="translate(454.4,746.4) scale(0.97,1)" class="t" font-size="13.6">4&#215; 119</text>
<text transform="translate(519.0,746.4) scale(0.97,1)" class="t" font-size="13.6">22-&#934;10.5</text>
<text transform="translate(563.9,746.4) scale(0.97,1)" class="t" font-size="13.6">1044</text>
<text transform="translate(602.0,746.4) scale(0.97,1)" class="t" font-size="13.6">868</text>
<text transform="translate(640.1,746.4) scale(0.97,1)" class="t" font-size="13.6">718</text>
<text transform="translate(682.3,746.4) scale(0.97,1)" class="t" font-size="13.6">M12</text>
<text transform="translate(20.4,769.5) scale(0.97,1)" class="t" font-size="13.6">8</text>
<text transform="translate(53.4,769.5) scale(0.97,1)" class="t" font-size="13.6">800</text>
<text transform="translate(92.0,769.5) scale(0.97,1)" class="t" font-size="13.6">860</text>
<text transform="translate(130.4,769.5) scale(0.97,1)" class="t" font-size="13.6">910</text>
<text transform="translate(165.0,769.5) scale(0.97,1)" class="t" font-size="13.6">488</text>
<text transform="translate(195.9,769.5) scale(0.97,1)" class="t" font-size="13.6">532</text>
<text transform="translate(230.4,769.5) scale(0.97,1)" class="t" font-size="13.6">576</text>
<text transform="translate(268.4,769.5) scale(0.97,1)" class="t" font-size="13.6">832</text>
<text transform="translate(306.9,769.5) scale(0.97,1)" class="t" font-size="13.6">875</text>
<text transform="translate(345.2,769.5) scale(0.97,1)" class="t" font-size="13.6">918</text>
<text transform="translate(393.8,769.5) scale(0.97,1)" class="t" font-size="13.6">7&#215; 125</text>
<text transform="translate(454.4,769.5) scale(0.97,1)" class="t" font-size="13.6">4&#215; 133</text>
<text transform="translate(519.0,769.5) scale(0.97,1)" class="t" font-size="13.6">22-&#934;10.5</text>
<text transform="translate(563.9,769.5) scale(0.97,1)" class="t" font-size="13.6">1182</text>
<text transform="translate(602.0,769.5) scale(0.97,1)" class="t" font-size="13.6">970</text>
<text transform="translate(640.1,769.5) scale(0.97,1)" class="t" font-size="13.6">800</text>
<text transform="translate(682.3,769.5) scale(0.97,1)" class="t" font-size="13.6">M12</text>
<text transform="translate(20.4,792.3) scale(0.97,1)" class="t" font-size="13.6">10</text>
<text transform="translate(53.4,792.3) scale(0.97,1)" class="t" font-size="13.6">1000</text>
<text transform="translate(92.0,792.3) scale(0.97,1)" class="t" font-size="13.6">1080</text>
<text transform="translate(130.4,792.3) scale(0.97,1)" class="t" font-size="13.6">1120</text>
<text transform="translate(165.0,792.3) scale(0.97,1)" class="t" font-size="13.6">610</text>
<text transform="translate(195.9,792.3) scale(0.97,1)" class="t" font-size="13.6">672</text>
<text transform="translate(230.4,792.3) scale(0.97,1)" class="t" font-size="13.6">718</text>
<text transform="translate(268.4,792.3) scale(0.97,1)" class="t" font-size="13.6">1040</text>
<text transform="translate(306.9,792.3) scale(0.97,1)" class="t" font-size="13.6">1096</text>
<text transform="translate(345.2,792.3) scale(0.97,1)" class="t" font-size="13.6">1148</text>
<text transform="translate(393.8,792.3) scale(0.97,1)" class="t" font-size="13.6">8&#215; 137</text>
<text transform="translate(454.4,792.3) scale(0.97,1)" class="t" font-size="13.6">4&#215; 168</text>
<text transform="translate(519.0,792.3) scale(0.97,1)" class="t" font-size="13.6">24-&#934;10.5</text>
<text transform="translate(563.9,792.3) scale(0.97,1)" class="t" font-size="13.6">1497</text>
<text transform="translate(602.0,792.3) scale(0.97,1)" class="t" font-size="13.6">1200</text>
<text transform="translate(640.1,792.3) scale(0.97,1)" class="t" font-size="13.6">986</text>
<text transform="translate(682.3,792.3) scale(0.97,1)" class="t" font-size="13.6">M12</text>
<text transform="translate(20.4,815.3) scale(0.97,1)" class="t" font-size="13.6">12</text>
<text transform="translate(53.4,815.3) scale(0.97,1)" class="t" font-size="13.6">1200</text>
<text transform="translate(92.0,815.3) scale(0.97,1)" class="t" font-size="13.6">1300</text>
<text transform="translate(130.4,815.3) scale(0.97,1)" class="t" font-size="13.6">1340</text>
<text transform="translate(165.0,815.3) scale(0.97,1)" class="t" font-size="13.6">732</text>
<text transform="translate(195.9,815.3) scale(0.97,1)" class="t" font-size="13.6">794</text>
<text transform="translate(230.4,815.3) scale(0.97,1)" class="t" font-size="13.6">840</text>
<text transform="translate(268.4,815.3) scale(0.97,1)" class="t" font-size="13.6">1248</text>
<text transform="translate(306.9,815.3) scale(0.97,1)" class="t" font-size="13.6">1308</text>
<text transform="translate(345.2,815.3) scale(0.97,1)" class="t" font-size="13.6">1358</text>
<text transform="translate(393.8,815.3) scale(0.97,1)" class="t" font-size="13.6">8&#215; 163.5</text>
<text transform="translate(454.4,815.3) scale(0.97,1)" class="t" font-size="13.6">4&#215; 198.5</text>
<text transform="translate(519.0,815.3) scale(0.97,1)" class="t" font-size="13.6">24-&#934;10.5</text>
<text transform="translate(563.9,815.3) scale(0.97,1)" class="t" font-size="13.6">1790</text>
<text transform="translate(602.0,815.3) scale(0.97,1)" class="t" font-size="13.6">1430</text>
<text transform="translate(640.1,815.3) scale(0.97,1)" class="t" font-size="13.6">1170</text>
<text transform="translate(682.3,815.3) scale(0.97,1)" class="t" font-size="13.6">M12</text>
<text x="20.4" y="839.5" class="c" font-size="13">机号</text>
<text transform="translate(20.4,861.0) scale(0.97,1)" class="t" font-size="13.6">No.</text>
<text transform="translate(53.4,848.9) scale(0.97,1)" class="t" font-size="13.6">A1</text>
<text transform="translate(92.0,848.9) scale(0.97,1)" class="t" font-size="13.6">A2</text>
<text transform="translate(130.4,848.9) scale(0.97,1)" class="t" font-size="13.6">A3</text>
<text transform="translate(165.0,848.9) scale(0.97,1)" class="t" font-size="13.6">B7</text>
<text transform="translate(195.9,848.9) scale(0.97,1)" class="t" font-size="13.6">B8</text>
<text transform="translate(230.4,848.9) scale(0.97,1)" class="t" font-size="13.6">E1</text>
<text transform="translate(268.4,848.9) scale(0.97,1)" class="t" font-size="13.6">E2</text>
<text transform="translate(306.9,848.9) scale(0.97,1)" class="t" font-size="13.6">E3</text>
<text transform="translate(345.2,848.9) scale(0.97,1)" class="t" font-size="13.6">E4</text>
<text transform="translate(393.8,848.9) scale(0.97,1)" class="t" font-size="13.6">E5</text>
<text transform="translate(454.4,848.9) scale(0.97,1)" class="t" font-size="13.6">E6</text>
<text transform="translate(515.0,848.9) scale(0.97,1)" class="t" font-size="13.6">E7</text>
<text transform="translate(563.9,848.9) scale(0.97,1)" class="t" font-size="13.6">E8</text>
<text transform="translate(602.0,848.9) scale(0.97,1)" class="t" font-size="13.6">L</text>
<text transform="translate(640.1,848.9) scale(0.97,1)" class="t" font-size="13.6">W</text>
<text x="682.3" y="840.5" class="c" font-size="13">风机重</text>
<text transform="translate(682.3,856.5) scale(0.97,1)" class="t" font-size="13.6">kg</text>
<text transform="translate(20.4,882.8) scale(0.97,1)" class="t" font-size="13.6">7</text>
<text transform="translate(53.4,882.8) scale(0.97,1)" class="t" font-size="13.6">539</text>
<text transform="translate(92.0,882.8) scale(0.97,1)" class="t" font-size="13.6">222</text>
<text transform="translate(130.4,882.8) scale(0.97,1)" class="t" font-size="13.6">724</text>
<text transform="translate(165.0,882.8) scale(0.97,1)" class="t" font-size="13.6">1200</text>
<text transform="translate(195.9,882.8) scale(0.97,1)" class="t" font-size="13.6">2460</text>
<text transform="translate(230.4,882.8) scale(0.97,1)" class="t" font-size="13.6">1263</text>
<text transform="translate(268.4,882.8) scale(0.97,1)" class="t" font-size="13.6">525</text>
<text transform="translate(306.9,882.8) scale(0.97,1)" class="t" font-size="13.6">964</text>
<text transform="translate(345.2,882.8) scale(0.97,1)" class="t" font-size="13.6">1552</text>
<text transform="translate(393.8,882.8) scale(0.97,1)" class="t" font-size="13.6">946</text>
<text transform="translate(454.4,882.8) scale(0.97,1)" class="t" font-size="13.6">1534</text>
<text transform="translate(515.0,882.8) scale(0.97,1)" class="t" font-size="13.6">1313</text>
<text transform="translate(563.9,882.8) scale(0.97,1)" class="t" font-size="13.6">1584</text>
<text transform="translate(602.0,882.8) scale(0.97,1)" class="t" font-size="13.6">2500</text>
<text transform="translate(640.1,882.8) scale(0.97,1)" class="t" font-size="13.6">830</text>
<text transform="translate(682.3,882.8) scale(0.97,1)" class="t" font-size="13.6">395</text>
<text transform="translate(20.4,905.9) scale(0.97,1)" class="t" font-size="13.6">8</text>
<text transform="translate(53.4,905.9) scale(0.97,1)" class="t" font-size="13.6">616</text>
<text transform="translate(92.0,905.9) scale(0.97,1)" class="t" font-size="13.6">251</text>
<text transform="translate(130.4,905.9) scale(0.97,1)" class="t" font-size="13.6">782</text>
<text transform="translate(165.0,905.9) scale(0.97,1)" class="t" font-size="13.6">1250</text>
<text transform="translate(195.9,905.9) scale(0.97,1)" class="t" font-size="13.6">2560</text>
<text transform="translate(230.4,905.9) scale(0.97,1)" class="t" font-size="13.6">1440</text>
<text transform="translate(268.4,905.9) scale(0.97,1)" class="t" font-size="13.6">600</text>
<text transform="translate(306.9,905.9) scale(0.97,1)" class="t" font-size="13.6">1102</text>
<text transform="translate(345.2,905.9) scale(0.97,1)" class="t" font-size="13.6">1772</text>
<text transform="translate(393.8,905.9) scale(0.97,1)" class="t" font-size="13.6">1075</text>
<text transform="translate(454.4,905.9) scale(0.97,1)" class="t" font-size="13.6">1745</text>
<text transform="translate(515.0,905.9) scale(0.97,1)" class="t" font-size="13.6">1490</text>
<text transform="translate(563.9,905.9) scale(0.97,1)" class="t" font-size="13.6">1795</text>
<text transform="translate(602.0,905.9) scale(0.97,1)" class="t" font-size="13.6">2600</text>
<text transform="translate(640.1,905.9) scale(0.97,1)" class="t" font-size="13.6">920</text>
<text transform="translate(682.3,905.9) scale(0.97,1)" class="t" font-size="13.6">480</text>
<text transform="translate(20.4,928.5) scale(0.97,1)" class="t" font-size="13.6">10</text>
<text transform="translate(53.4,928.5) scale(0.97,1)" class="t" font-size="13.6">770</text>
<text transform="translate(92.0,928.5) scale(0.97,1)" class="t" font-size="13.6">309</text>
<text transform="translate(130.4,928.5) scale(0.97,1)" class="t" font-size="13.6">948</text>
<text transform="translate(165.0,928.5) scale(0.97,1)" class="t" font-size="13.6">1450</text>
<text transform="translate(195.9,928.5) scale(0.97,1)" class="t" font-size="13.6">2950</text>
<text transform="translate(230.4,928.5) scale(0.97,1)" class="t" font-size="13.6">1800</text>
<text transform="translate(268.4,928.5) scale(0.97,1)" class="t" font-size="13.6">750</text>
<text transform="translate(306.9,928.5) scale(0.97,1)" class="t" font-size="13.6">1397</text>
<text transform="translate(345.2,928.5) scale(0.97,1)" class="t" font-size="13.6">2233</text>
<text transform="translate(393.8,928.5) scale(0.97,1)" class="t" font-size="13.6">1344</text>
<text transform="translate(454.4,928.5) scale(0.97,1)" class="t" font-size="13.6">2180</text>
<text transform="translate(515.0,928.5) scale(0.97,1)" class="t" font-size="13.6">1850</text>
<text transform="translate(563.9,928.5) scale(0.97,1)" class="t" font-size="13.6">2230</text>
<text transform="translate(602.0,928.5) scale(0.97,1)" class="t" font-size="13.6">3000</text>
<text transform="translate(640.1,928.5) scale(0.97,1)" class="t" font-size="13.6">1090</text>
<text transform="translate(682.3,928.5) scale(0.97,1)" class="t" font-size="13.6">840</text>
<text transform="translate(20.4,951.1) scale(0.97,1)" class="t" font-size="13.6">12</text>
<text transform="translate(53.4,951.1) scale(0.97,1)" class="t" font-size="13.6">924</text>
<text transform="translate(92.0,951.1) scale(0.97,1)" class="t" font-size="13.6">373</text>
<text transform="translate(130.4,951.1) scale(0.97,1)" class="t" font-size="13.6">1076</text>
<text transform="translate(165.0,951.1) scale(0.97,1)" class="t" font-size="13.6">1550</text>
<text transform="translate(195.9,951.1) scale(0.97,1)" class="t" font-size="13.6">3140</text>
<text transform="translate(230.4,951.1) scale(0.97,1)" class="t" font-size="13.6">2160</text>
<text transform="translate(268.4,951.1) scale(0.97,1)" class="t" font-size="13.6">900</text>
<text transform="translate(306.9,951.1) scale(0.97,1)" class="t" font-size="13.6">1670</text>
<text transform="translate(345.2,951.1) scale(0.97,1)" class="t" font-size="13.6">2672</text>
<text transform="translate(393.8,951.1) scale(0.97,1)" class="t" font-size="13.6">1603</text>
<text transform="translate(454.4,951.1) scale(0.97,1)" class="t" font-size="13.6">2605</text>
<text transform="translate(515.0,951.1) scale(0.97,1)" class="t" font-size="13.6">2210</text>
<text transform="translate(563.9,951.1) scale(0.97,1)" class="t" font-size="13.6">2655</text>
<text transform="translate(602.0,951.1) scale(0.97,1)" class="t" font-size="13.6">3200</text>
<text transform="translate(640.1,951.1) scale(0.97,1)" class="t" font-size="13.6">1210</text>
<text transform="translate(682.3,951.1) scale(0.97,1)" class="t" font-size="13.6">1110</text>
<text x="163.2" y="632.5" textLength="56.8" lengthAdjust="spacingAndGlyphs" class="lm" font-size="18.2">T4 - 72</text>
<text x="227.8" y="633" textLength="103.2" lengthAdjust="spacing" class="cj" font-size="16.8">型离心通风机</text>
<text x="330.8" y="632.5" textLength="80.0" lengthAdjust="spacingAndGlyphs" class="lm" font-size="18.2">No.7~ 12E</text>
<text x="410.8" y="633" textLength="103.2" lengthAdjust="spacing" class="cj" font-size="16.8">式传动外形图</text>
<text x="126.2" y="668" textLength="58.8" lengthAdjust="spacingAndGlyphs" class="lm" font-size="18.6">T4 - 72</text>
<text x="184.5" y="668.5" textLength="104.0" lengthAdjust="spacing" class="cj" font-size="16.8">型离心通风机</text>
<text x="288.6" y="668" textLength="72.9" lengthAdjust="spacingAndGlyphs" class="lm" font-size="18.6">No.7~ 12E</text>
<text x="373.7" y="668.5" textLength="192.3" lengthAdjust="spacing" class="cj" font-size="17.2">式传动安装及外形尺寸表</text>
<text x="638.5" y="677.5" textLength="24.0" lengthAdjust="spacing" class="un" font-size="11.5">单位：</text>
<text x="671.5" y="677.5" textLength="18.5" lengthAdjust="spacingAndGlyphs" class="un" font-size="12.5">mm</text>
<text x="9" y="976.5" textLength="35.0" lengthAdjust="spacing" class="nb" font-size="11.5">备注：</text>
<text x="44.5" y="976.5" textLength="142.5" lengthAdjust="spacing" class="nr" font-size="11.5">风机重量不包括电机重量</text>
<text x="196" y="976.5" textLength="40.0" lengthAdjust="spacing" class="nm" font-size="11.5">&#8220;B7&#8221;</text>
<text x="236" y="976.5" textLength="273.5" lengthAdjust="spacing" class="nm" font-size="11.5">尺寸仅供参考，具体根据风机实际重心而定。</text>
</svg>
</div></body></html>
